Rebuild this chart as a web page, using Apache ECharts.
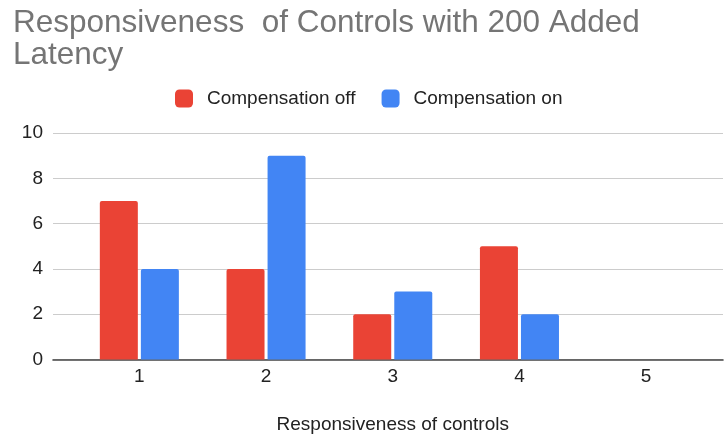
<!DOCTYPE html>
<html><head><meta charset="utf-8">
<script src="https://cdn.jsdelivr.net/npm/echarts@6/dist/echarts.min.js"></script>
<style>html,body{margin:0;padding:0;background:#fff}#c{width:724px;height:440px}</style>
</head><body><div id="c"></div>
<script>
const categories = ['1', '2', '3', '4', '5'];
const compOff = [7, 4, 2, 5, 0];
const compOn = [4, 9, 3, 2, 0];
const seriesNames = ['Compensation off', 'Compensation on'];
const titleText = 'Responsiveness  of Controls with 200 Added\nLatency';
const xName = 'Responsiveness of controls';
const yMin = 0, yMax = 10, yStep = 2;

const FONT = 'Arial, "Liberation Sans", sans-serif';
const chart = echarts.init(document.getElementById('c'), null, {renderer: 'canvas'});
chart.setOption({
  animation: false,
  backgroundColor: '#fff',
  title: {
    text: titleText, left: 13, top: 7, padding: 0,
    textStyle: {fontFamily: FONT, fontWeight: 'normal', fontSize: 31.5, color: '#757575', lineHeight: 32}
  },
  legend: {
    top: 89, left: 175, padding: 0, itemWidth: 18, itemHeight: 18, itemGap: 26,
    icon: 'roundRect',
    textStyle: {fontFamily: FONT, fontSize: 19, color: '#222', padding: [0, 0, 0, 9]},
    data: seriesNames
  },
  grid: [
    {left: 76, right: 14.5, top: 133, bottom: 80.5, containLabel: false, outerBoundsMode: 'none'},
    {left: 53, right: 1, top: 133, bottom: 80.5, containLabel: false, outerBoundsMode: 'none'}
  ],
  xAxis: [
    {
      type: 'category', data: categories, gridIndex: 0,
      name: xName, nameLocation: 'middle', nameGap: 56,
      nameTextStyle: {fontFamily: FONT, fontSize: 19, color: '#222'},
      axisLine: {show: false},
      axisTick: {show: false},
      axisLabel: {fontFamily: FONT, fontSize: 19, color: '#222', margin: 8}
    },
    {
      type: 'value', gridIndex: 1, min: 0, max: 1,
      axisLine: {show: true, lineStyle: {color: '#444', width: 1.6}},
      axisTick: {show: false}, axisLabel: {show: false}, splitLine: {show: false}
    }
  ],
  yAxis: [
    {
      type: 'value', gridIndex: 0, min: yMin, max: yMax, interval: yStep,
      axisLine: {show: false}, axisTick: {show: false},
      axisLabel: {show: false}, splitLine: {show: false}
    },
    {
      type: 'value', gridIndex: 1, min: yMin, max: yMax, interval: yStep,
      axisLine: {show: false}, axisTick: {show: false},
      axisLabel: {fontFamily: FONT, fontSize: 19, color: '#222', margin: 10},
      splitLine: {lineStyle: {color: '#ccc', width: 1}}
    }
  ],
  series: [
    {name: seriesNames[0], type: 'bar', data: compOff, barWidth: 38, barGap: '8%',
     xAxisIndex: 0, yAxisIndex: 0,
     itemStyle: {color: '#EA4335', borderRadius: [2, 2, 0, 0]}},
    {name: seriesNames[1], type: 'bar', data: compOn, barWidth: 38,
     xAxisIndex: 0, yAxisIndex: 0,
     itemStyle: {color: '#4285F4', borderRadius: [2, 2, 0, 0]}}
  ]
});
</script></body></html>
